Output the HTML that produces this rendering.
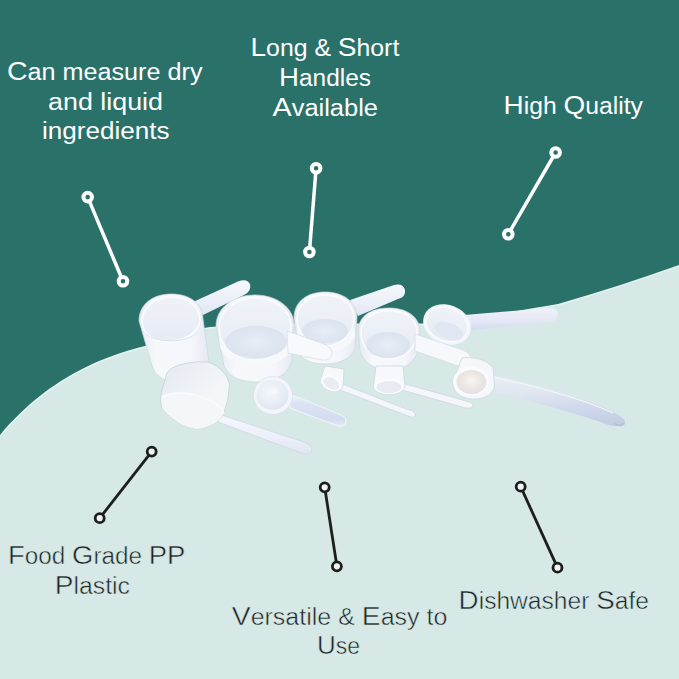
<!DOCTYPE html>
<html><head><meta charset="utf-8">
<style>
html,body{margin:0;padding:0;width:679px;height:679px;overflow:hidden;background:#d7e9e6;}
svg{display:block;position:absolute;left:0;top:0;}
text{font-family:"Liberation Sans",sans-serif;font-size:23px;}
.w{fill:#ffffff;}
.d{fill:#1f2322;stroke:#d7e9e6;stroke-width:0.5px;}
</style></head>
<body>
<svg width="679" height="679" viewBox="0 0 679 679">
<rect x="0" y="0" width="679" height="679" fill="#d7e9e6"/>
<path id="edge" d="M679,265 C640,279 600,292 558,304 C520,310 470,320 430,323 C390,326 300,320 210,327 C190,329 170,339.7 144,346.2 C113,354 52,372.6 0,435" fill="none" stroke="#e4f3f1" stroke-width="3"/>
<path id="teal" d="M0,0 H679 V265 C640,279 600,292 558,304 C520,310 470,320 430,323 C390,326 300,320 210,327 C190,329 170,339.7 144,346.2 C113,354 52,372.6 0,435 Z" fill="#2a7169"/>

<!-- texts -->
<g id="texts">
<text class="w" x="7" y="80" textLength="195.5" lengthAdjust="spacingAndGlyphs"><tspan font-size="26">C</tspan>an measure dry</text>
<text class="w" x="48" y="110" textLength="115" lengthAdjust="spacingAndGlyphs">and liquid</text>
<text class="w" x="41.9" y="139" textLength="127.6" lengthAdjust="spacingAndGlyphs">ingredients</text>
<text class="w" x="250.5" y="55.5" textLength="148.8" lengthAdjust="spacingAndGlyphs"><tspan font-size="26">L</tspan>ong &amp; <tspan font-size="26">S</tspan>hort</text>
<text class="w" x="279" y="85.8" textLength="92" lengthAdjust="spacingAndGlyphs"><tspan font-size="26">H</tspan>andles</text>
<text class="w" x="272.5" y="116.2" textLength="105.5" lengthAdjust="spacingAndGlyphs"><tspan font-size="26">A</tspan>vailable</text>
<text class="w" x="503.5" y="113.8" textLength="139.5" lengthAdjust="spacingAndGlyphs"><tspan font-size="26">H</tspan>igh <tspan font-size="26">Q</tspan>uality</text>
<text class="d" x="8.1" y="563.6" textLength="177.3" lengthAdjust="spacingAndGlyphs"><tspan font-size="26">F</tspan>ood <tspan font-size="26">G</tspan>rade <tspan font-size="26">P</tspan><tspan font-size="26">P</tspan></text>
<text class="d" x="54.8" y="593.9" textLength="75.2" lengthAdjust="spacingAndGlyphs"><tspan font-size="26">P</tspan>lastic</text>
<text class="d" x="231.8" y="625" textLength="215.6" lengthAdjust="spacingAndGlyphs"><tspan font-size="26">V</tspan>ersatile &amp; <tspan font-size="26">E</tspan>asy to</text>
<text class="d" x="317" y="654.4" textLength="43" lengthAdjust="spacingAndGlyphs"><tspan font-size="26">U</tspan>se</text>
<text class="d" x="458.6" y="609.4" textLength="190.4" lengthAdjust="spacingAndGlyphs"><tspan font-size="26">D</tspan>ishwasher <tspan font-size="26">S</tspan>afe</text>
</g>

<!-- connectors -->
<g fill="none" stroke="#ffffff" stroke-width="3.5">
<line x1="87.7" y1="197.1" x2="123" y2="281.3"/>
<circle cx="87.7" cy="197.1" r="4.3" fill="#2a7169" stroke-width="4"/>
<circle cx="123" cy="281.3" r="4.3" fill="#2a7169" stroke-width="4"/>
<line x1="316.1" y1="168.2" x2="309.4" y2="252"/>
<circle cx="316.1" cy="168.2" r="4.3" fill="#2a7169" stroke-width="4"/>
<circle cx="309.4" cy="252" r="4.3" fill="#2a7169" stroke-width="4"/>
<line x1="555.6" y1="152.5" x2="508.3" y2="234.2"/>
<circle cx="555.6" cy="152.5" r="4.3" fill="#2a7169" stroke-width="4"/>
<circle cx="508.3" cy="234.2" r="4.3" fill="#2a7169" stroke-width="4"/>
</g>
<g fill="none" stroke="#1c1f1e" stroke-width="2.8">
<line x1="151.7" y1="451.6" x2="99.7" y2="518.2"/>
<circle cx="151.7" cy="451.6" r="4.5" fill="#eef5f3"/>
<circle cx="99.7" cy="518.2" r="4.5" fill="#eef5f3"/>
<line x1="324.7" y1="487.3" x2="336.9" y2="566.3"/>
<circle cx="324.7" cy="487.3" r="4.5" fill="#eef5f3"/>
<circle cx="336.9" cy="566.3" r="4.5" fill="#eef5f3"/>
<line x1="520.7" y1="486.7" x2="557.5" y2="567.7"/>
<circle cx="520.7" cy="486.7" r="4.5" fill="#eef5f3"/>
<circle cx="557.5" cy="567.7" r="4.5" fill="#eef5f3"/>
</g>

<!-- scoops -->
<g id="scoops">
<defs>
<linearGradient id="gWall" x1="0" y1="0" x2="1" y2="0">
<stop offset="0" stop-color="#e6ebf2"/><stop offset="0.25" stop-color="#f6f8fc"/><stop offset="0.75" stop-color="#f4f6fb"/><stop offset="1" stop-color="#e4e9f1"/>
</linearGradient>
<linearGradient id="gInner" x1="0" y1="0" x2="0" y2="1">
<stop offset="0" stop-color="#eff2f8"/><stop offset="1" stop-color="#e6ebf4"/>
</linearGradient>
<radialGradient id="gFloor" cx="0.5" cy="0.5" r="0.5">
<stop offset="0" stop-color="#e8edf6"/><stop offset="1" stop-color="#dce3ef"/>
</radialGradient>
<linearGradient id="gHandle" x1="0" y1="0" x2="0" y2="1">
<stop offset="0" stop-color="#f5f7fc"/><stop offset="0.6" stop-color="#ebeff9"/><stop offset="1" stop-color="#dfe5f2"/>
</linearGradient>
<linearGradient id="gHandleB" x1="0" y1="0" x2="0" y2="1">
<stop offset="0" stop-color="#f0f3fa"/><stop offset="0.3" stop-color="#dbe2f3"/><stop offset="0.8" stop-color="#d3dcf0"/><stop offset="1" stop-color="#e8ecf6"/>
</linearGradient>
<linearGradient id="gHandleI" x1="0" y1="0" x2="0" y2="1">
<stop offset="0" stop-color="#f0f2fa"/><stop offset="0.6" stop-color="#e3e7f6"/><stop offset="1" stop-color="#d2d9ec"/>
</linearGradient>
<radialGradient id="gOpen" cx="0.5" cy="0.45" r="0.6">
<stop offset="0" stop-color="#f8f6f3"/><stop offset="0.55" stop-color="#ebe6e2"/><stop offset="1" stop-color="#e0dfe3"/>
</radialGradient>
<radialGradient id="gBowl" cx="0.45" cy="0.4" r="0.6">
<stop offset="0" stop-color="#f5f7fb"/><stop offset="0.6" stop-color="#e9eef6"/><stop offset="1" stop-color="#dfe6f1"/>
</radialGradient>
<linearGradient id="gCbody" x1="0" y1="0" x2="1" y2="1"><stop offset="0" stop-color="#e4e9f0"/><stop offset="0.6" stop-color="#f3f5f9"/><stop offset="1" stop-color="#f7f9fb"/></linearGradient>
<linearGradient id="gHandleJ" x1="0" y1="0" x2="0.15" y2="1"><stop offset="0" stop-color="#e9eff4"/><stop offset="0.4" stop-color="#dfe6f0"/><stop offset="0.75" stop-color="#cfd8ec"/><stop offset="1" stop-color="#c5cfe3"/></linearGradient>
<filter id="soft" x="-5%" y="-5%" width="110%" height="110%"><feGaussianBlur stdDeviation="0.5"/></filter>
</defs>
<g filter="url(#soft)">
<!-- A handle -->
<path d="M193,302 L238,281.5 Q247,278 250,284 Q252,291 244,295 L203,315 Z" fill="url(#gHandle)"/>
<!-- A cup -->
<path d="M139,321 C139,304 153,294 171.5,294 C190,294 203,304 203,319 L209,362 C206,372 195,376 186,377 L166,380 C158,378 153,371 151,362 Z" fill="url(#gWall)" stroke="#cdd6e0" stroke-width="0.7"/>
<path d="M142,322 C142,307 155,297 171.5,297 C188,297 200,307 200,320 C199,332 186,340 170,342 C154,342 143,334 142,322 Z" fill="url(#gInner)" stroke="#fbfcfe" stroke-width="1.6"/>
<path d="M146,334 C156,343 186,344 198,332" fill="none" stroke="#dde3ec" stroke-width="1"/>

<!-- B cup -->
<path d="M216,326 C216,308 233,295 255,295 C277,295 294,308 294,325 L292,361 C288,374 276,382 257,382 C238,382 228,375 224,366 Z" fill="url(#gWall)" stroke="#cdd6e0" stroke-width="0.7"/>
<path d="M219,327 C219,311 235,298 255,298 C275,298 291,311 291,326 C291,348 275,360 255,360 C235,360 219,348 219,327 Z" fill="url(#gInner)" stroke="#fbfcfe" stroke-width="1.6"/>
<ellipse cx="256" cy="342" rx="31" ry="16" fill="url(#gFloor)"/>
<path d="M219,336 C224,352 240,360 255,360 C272,360 287,352 291,336 L292,344 C289,360 274,366 255,366 C236,366 223,358 220,346 Z" fill="#f6f8fb"/>

<!-- E handle -->
<path d="M350,300 L394,285 Q403,283 405,290 Q406,297 398,299 L358,316 Z" fill="url(#gHandle)"/>
<!-- E cup -->
<path d="M294,318 C294,301 308,292 325,292 C343,292 357,302 357,317 L355,348 C352,358 340,364 325,364 C312,364 303,360 299,354 Z" fill="url(#gWall)" stroke="#cdd6e0" stroke-width="0.7"/>
<path d="M297,318 C297,304 310,295 325,295 C341,295 354,304 354,318 C354,334 341,346 325,346 C310,346 297,334 297,318 Z" fill="url(#gInner)" stroke="#fbfcfe" stroke-width="1.6"/>
<ellipse cx="325" cy="331" rx="23" ry="12" fill="url(#gFloor)"/>
<path d="M297,326 C302,340 315,346 325,346 C337,346 350,340 354,326 L355,336 C350,348 338,352 325,352 C312,352 301,346 298,338 Z" fill="#f6f8fb"/>

<!-- F cup -->
<path d="M358,332 C358,316 371,308 389,308 C407,308 420,317 420,332 L417,354 C412,366 398,371 385,370 C372,368 363,362 360,350 Z" fill="url(#gWall)" stroke="#cdd6e0" stroke-width="0.7"/>
<path d="M361,332 C361,319 373,311 389,311 C405,311 417,319 417,332 C417,348 404,359 389,359 C373,359 361,348 361,332 Z" fill="url(#gInner)" stroke="#fbfcfe" stroke-width="1.6"/>
<ellipse cx="388" cy="345" rx="22" ry="13" fill="url(#gFloor)"/>

<!-- I handle -->
<path d="M464,315 L550,308 Q558,308 558,314.5 Q558,321 550,321.5 L466,331 Z" fill="url(#gHandleI)"/>
<!-- I cup -->
<ellipse cx="447" cy="324.5" rx="24.5" ry="19.5" transform="rotate(22 447 324.5)" fill="#f3f5fa"/>
<ellipse cx="447" cy="324.5" rx="21.5" ry="16.5" transform="rotate(22 447 324.5)" fill="url(#gInner)" stroke="#fbfcfe" stroke-width="1.2"/>
<ellipse cx="449" cy="331" rx="15" ry="8" transform="rotate(22 449 331)" fill="#e1e7f2"/>

<!-- B flat handle -->
<path d="M287,331 L324,344 Q333,348 332,354 Q330,361 322,360 L288,353 Z" fill="#f7f9fc" stroke="#d3dbe6" stroke-width="0.7"/>
<!-- F flat handle -->
<path d="M415,334 L463,350 Q472,354 471,361 Q469,368 461,367 L415,351 Z" fill="#f6f8fb" stroke="#d3dbe6" stroke-width="0.7"/>

<!-- C handle -->
<path d="M218,414 L304,442 Q312,445 312,450 Q311,455 304,454 L218,422 Z" fill="url(#gHandle)" stroke="#ccd5df" stroke-width="0.7"/>
<!-- C cup (lying) -->
<path d="M167,373 C172,365 190,361 208,362 C220,366 229,376 229.5,386 L228,398 L224,413 C219,422 210,428 196,429 C185,427 172,421 162,408 C160,402 160,398 161,394 Z" fill="url(#gCbody)" stroke="#c5d0db" stroke-width="0.8"/>
<path d="M162,397 C170,392 184,392 196,395 C210,399 220,406 224,413 C219,422 210,428 196,429 C185,427 172,421 162,408 Z" fill="#f4f6f9"/>
<path d="M162,397 C170,392 184,392 196,395 C210,399 220,406 224,413" fill="none" stroke="#fafbfd" stroke-width="1.6"/>

<!-- D handle -->
<path d="M290,394 L341,415 Q347,418 345.5,423 Q344,427 338,426 L290,408 Z" fill="url(#gHandleB)" stroke="#f2f4fa" stroke-width="1"/>
<!-- D bowl -->
<ellipse cx="273" cy="395.5" rx="19.5" ry="19" fill="#f3f5fa" stroke="#d3dbe4" stroke-width="0.6"/>
<ellipse cx="272.5" cy="395" rx="16" ry="15" fill="url(#gBowl)"/>
<ellipse cx="274.5" cy="391" rx="3" ry="2.5" fill="#f6f8fc"/>

<!-- H handle -->
<path d="M340,383 L406,409 Q413,410 415,413 Q416,418 411,417 L340,390 Z" fill="#f4f6fb" stroke="#c9d3de" stroke-width="0.7"/>
<!-- H cup -->
<path d="M325,366 L344,369 L343,387 Q339,392 332,391.5 Q322,389 320.5,380 Z" fill="#f6f8fb" stroke="#c9d3de" stroke-width="0.7"/>
<ellipse cx="331" cy="383" rx="11" ry="7.5" transform="rotate(28 331 383)" fill="#fafbfd"/>
<ellipse cx="331.5" cy="383.5" rx="8.5" ry="5.5" transform="rotate(28 331.5 383.5)" fill="#e9ecf2"/>

<!-- G handle -->
<path d="M402,383 L466,401 Q472,402 473,405 Q472,409 466,408 L402,390 Z" fill="#f4f6fb" stroke="#c9d3de" stroke-width="0.7"/>
<!-- G cup -->
<path d="M376,366 L403,366 L405,386 Q403,394 389,394.5 Q375,394 373.5,386 Z" fill="#f6f8fb" stroke="#c9d3de" stroke-width="0.7"/>
<ellipse cx="389" cy="386.5" rx="15" ry="7.8" fill="#fafbfd"/>
<ellipse cx="389" cy="387" rx="12.5" ry="6" fill="#e8ebf1"/>

<!-- J handle -->
<path d="M490,375 C540,385 585,398 613,412 Q622,416 625,421 Q626,427 619,426 L612,426 C585,416 540,403 490,391 Z" fill="url(#gHandleJ)"/>
<path d="M492,377 C540,387 585,400 613,413" fill="none" stroke="#f3f6fa" stroke-width="1.2"/>
<path d="M614,424 Q621,427 624,423" fill="none" stroke="#b7c2d4" stroke-width="2"/>
<!-- J cup -->
<path d="M462,358 C474,356 487,360 493,368 L494.5,386 C493,396 482,400 470,399 C458,397 452,390 453,381 Z" fill="#f5f7fb" stroke="#c9d3de" stroke-width="0.7"/>
<ellipse cx="471" cy="381.5" rx="18" ry="15" fill="#fafbfd"/>
<ellipse cx="471.5" cy="382" rx="15" ry="12" fill="url(#gOpen)"/>
</g>

</g>
<!-- /scoops -->
</svg>
</body></html>
